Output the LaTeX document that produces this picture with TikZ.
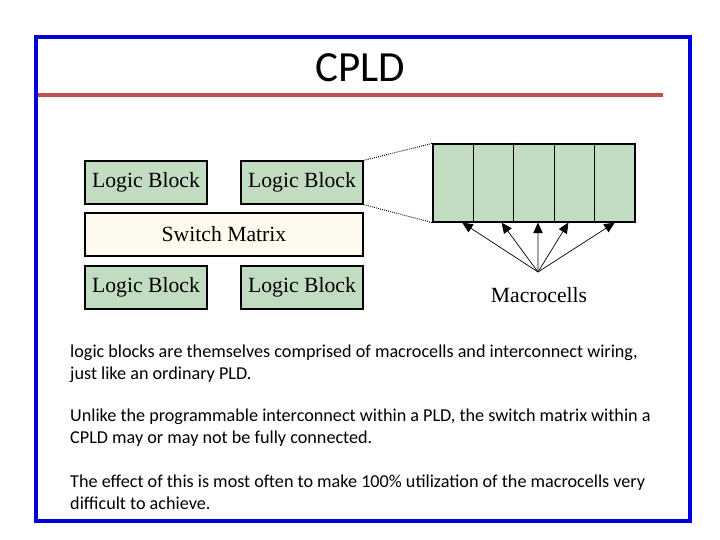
\documentclass[tikz,border=0pt]{standalone}
\usepackage{fontspec}
\setmainfont{Carlito}
\newfontfamily\diagfont{Liberation Serif}
\usetikzlibrary{arrows.meta}
\definecolor{frameblue}{RGB}{0,0,220}
\definecolor{rulered}{RGB}{192,80,77}
\definecolor{blockgreen}{RGB}{194,220,194}
\definecolor{matrixcream}{RGB}{255,250,238}
\tikzset{
  logicblock/.style={draw, line width=1.1pt, fill=blockgreen, minimum width=3.66cm, minimum height=1.29cm,
    inner sep=0pt, font=\diagfont\fontsize{18.5}{20}\selectfont},
  switchbox/.style={logicblock, fill=matrixcream, minimum width=8.34cm},
  cellbox/.style={draw, line width=1pt, fill=blockgreen, minimum width=1.212cm, minimum height=2.34cm, inner sep=0pt},
  bodytext/.style={anchor=base west, align=left, inner sep=0pt, font=\fontsize{15.5}{18.5}\selectfont}
}
\begin{document}
\begin{tikzpicture}[x=0.03cm, y=-0.03cm]
    \useasboundingbox (0,0) rectangle (720,540);
    % Frame and title
    \draw[frameblue, line width=3pt] (36,37) rectangle (690,521);
    \node[anchor=base, inner sep=0pt, font=\fontsize{36.7}{40}\selectfont] (title) at (360,82) {CPLD};
    \draw[rulered, line width=3pt] (38,95) -- (663,95);
    % Logic blocks and switch matrix
    \node[logicblock] (lbTL) at (146,182.5) {Logic Block};
    \node[logicblock] (lbTR) at (302,182.5) {Logic Block};
    \node[switchbox] (sm) at (224,234.5) {Switch Matrix};
    \node[logicblock] (lbBL) at (146,287.5) {Logic Block};
    \node[logicblock] (lbBR) at (302,287.5) {Logic Block};
    % Macrocells
    \foreach \i in {1,...,5} {
        \node[cellbox] (c\i) at (433+40.4*\i-20.2,183) {};
    }
    \draw[densely dotted, line width=0.8pt] (lbTR.north east) -- (c1.north west);
    \draw[densely dotted, line width=0.8pt] (lbTR.south east) -- (c1.south west);
    \coordinate (fan) at (538,272);
    \node[inner sep=0pt, font=\diagfont\fontsize{18.5}{20}\selectfont] (mc) at (539,295) {Macrocells};
    \foreach \i/\dx in {1/9, 2/8, 3/4, 4/-6, 5/0} {
        \draw[-{Triangle[length=9pt, width=8pt]}, line width=0.6pt] (fan) -- ([xshift=\dx*0.03cm]c\i.south);
    }
    % Text (anchored at the baseline of the last line)
    \node[bodytext] (p1) at (70,379) {logic blocks are themselves comprised of macrocells and interconnect wiring,\\just like an ordinary PLD.};
    \node[bodytext] (p2) at (70,443) {Unlike the programmable interconnect within a PLD, the switch matrix within a\\CPLD may or may not be fully connected.};
    \node[bodytext] (p3) at (70,509) {The effect of this is most often to make 100\% utilization of the macrocells very\\difficult to achieve.};
\end{tikzpicture}
\end{document}
